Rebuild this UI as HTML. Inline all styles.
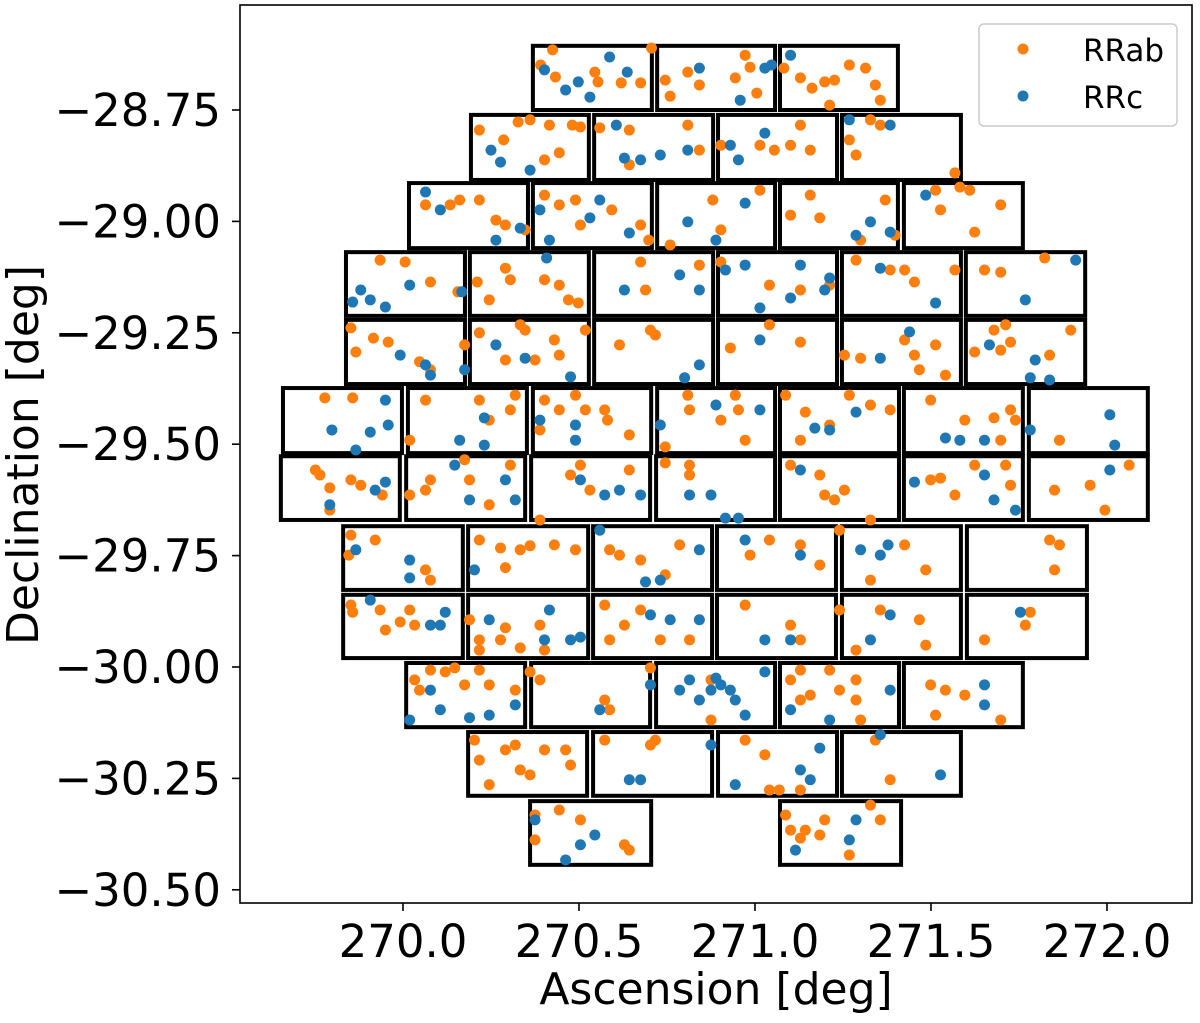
<!DOCTYPE html>
<html><head><meta charset="utf-8"><style>
html,body{margin:0;padding:0;background:#fff;}
svg{display:block;font-family:"DejaVu Sans","Liberation Sans",sans-serif;}
</style></head><body>
<svg id="chart" width="1200" height="1023" viewBox="0 0 1200 1023" xmlns="http://www.w3.org/2000/svg">
<rect x="0" y="0" width="1200" height="1023" fill="#fff"/>
<g id="chips"></g>
<g id="pts"></g>
<rect x="240" y="5" width="952" height="898" fill="none" stroke="#000" stroke-width="1.6"/>
<g id="axes"></g>
<text x="716" y="1004" font-size="44" text-anchor="middle">Ascension [deg]</text>
<text transform="translate(38,455) rotate(-90)" font-size="44" text-anchor="middle">Declination [deg]</text>
<g>
<rect x="979" y="24" width="198" height="102" rx="5" fill="#fff" fill-opacity="0.85" stroke="#ccc" stroke-width="1.5"/>
<circle cx="1023" cy="49" r="5.5" fill="#ff7f0e"/>
<text x="1083" y="61" font-size="31">RRab</text>
<circle cx="1023" cy="96" r="5.5" fill="#1f77b4"/>
<text x="1083" y="108" font-size="31">RRc</text>
</g>
</svg>
<script>
const xTicks=[270.0,270.5,271.0,271.5,272.0];
const xTickLabels=["270.0","270.5","271.0","271.5","272.0"];
const yTicks=[-28.75,-29.00,-29.25,-29.50,-29.75,-30.00,-30.25,-30.50];
const yTickLabels=["\u221228.75","\u221229.00","\u221229.25","\u221229.50","\u221229.75","\u221230.00","\u221230.25","\u221230.50"];
// chips: [ra0, ra1, decTop, decBottom]
const chips=[
[270.369,270.707,-28.606,-28.750],[270.722,271.057,-28.606,-28.750],[271.071,271.406,-28.606,-28.750],
[270.193,270.528,-28.761,-28.907],[270.543,270.881,-28.761,-28.907],[270.895,271.233,-28.761,-28.907],[271.247,271.585,-28.761,-28.907],
[270.017,270.355,-28.914,-29.060],[270.369,270.707,-28.914,-29.060],[270.722,271.057,-28.914,-29.060],[271.071,271.406,-28.914,-29.060],[271.423,271.761,-28.914,-29.060],
[269.838,270.176,-29.069,-29.212],[270.190,270.528,-29.069,-29.212],[270.543,270.881,-29.069,-29.212],[270.895,271.233,-29.069,-29.212],[271.247,271.585,-29.069,-29.212],[271.599,271.938,-29.069,-29.212],
[269.838,270.176,-29.221,-29.365],[270.190,270.528,-29.221,-29.365],[270.543,270.881,-29.221,-29.365],[270.895,271.233,-29.221,-29.365],[271.247,271.585,-29.221,-29.365],[271.599,271.938,-29.221,-29.365],
[269.659,269.997,-29.374,-29.520],[270.014,270.352,-29.374,-29.520],[270.369,270.705,-29.374,-29.520],[270.722,271.057,-29.374,-29.520],[271.071,271.409,-29.374,-29.520],[271.423,271.761,-29.374,-29.520],[271.778,272.116,-29.374,-29.520],
[269.653,269.991,-29.527,-29.670],[270.009,270.347,-29.527,-29.670],[270.364,270.702,-29.527,-29.670],[270.719,271.057,-29.527,-29.670],[271.071,271.409,-29.527,-29.670],[271.423,271.761,-29.527,-29.670],[271.778,272.116,-29.527,-29.670],
[269.830,270.170,-29.684,-29.827],[270.185,270.526,-29.684,-29.827],[270.540,270.878,-29.684,-29.827],[270.892,271.230,-29.684,-29.827],[271.247,271.585,-29.684,-29.827],[271.602,271.943,-29.684,-29.827],
[269.830,270.170,-29.838,-29.980],[270.185,270.526,-29.838,-29.980],[270.540,270.878,-29.838,-29.980],[270.892,271.230,-29.838,-29.980],[271.247,271.585,-29.838,-29.980],[271.602,271.943,-29.838,-29.980],
[270.009,270.347,-29.991,-30.135],[270.364,270.702,-29.991,-30.135],[270.719,271.057,-29.991,-30.135],[271.071,271.409,-29.991,-30.135],[271.423,271.761,-29.991,-30.135],
[270.185,270.523,-30.146,-30.289],[270.540,270.878,-30.146,-30.289],[270.895,271.233,-30.146,-30.289],[271.247,271.585,-30.146,-30.289],
[270.361,270.705,-30.301,-30.444],[271.071,271.415,-30.301,-30.444]
];
const rrab=[
[270.425,-28.615],[270.391,-28.649],[270.433,-28.676],[270.545,-28.665],[270.554,-28.687],[270.620,-28.689],[270.706,-28.611],[270.675,-28.689],[270.745,-28.683],[270.759,-28.719],[270.809,-28.665],[270.842,-28.694],[270.944,-28.678],[270.986,-28.654],[271.005,-28.712],[270.972,-28.627],[271.082,-28.656],[271.129,-28.678],[271.162,-28.701],[271.198,-28.687],[271.226,-28.683],[271.268,-28.649],[271.314,-28.656],[271.342,-28.694],[271.356,-28.728],[271.212,-28.739],
[270.217,-28.795],[270.286,-28.817],[270.327,-28.777],[270.361,-28.772],[270.416,-28.784],[270.402,-28.862],[270.481,-28.784],[270.504,-28.788],[270.444,-28.846],[270.559,-28.790],[270.643,-28.795],[270.643,-28.873],[270.809,-28.784],[270.842,-28.840],[270.903,-28.829],[271.014,-28.829],[271.055,-28.840],[271.101,-28.829],[271.129,-28.784],[271.157,-28.840],[271.268,-28.817],[271.287,-28.851],[271.328,-28.772],[271.356,-28.784],[271.568,-28.891],
[270.064,-28.963],[270.134,-28.963],[270.161,-28.952],[270.217,-28.952],[270.264,-28.997],[270.291,-29.008],[270.347,-29.019],[270.402,-28.941],[270.444,-28.963],[270.490,-28.952],[270.504,-29.008],[270.593,-28.974],[270.675,-29.008],[270.698,-29.042],[270.759,-29.053],[270.880,-28.952],[270.903,-29.019],[271.014,-28.930],[271.101,-28.986],[271.157,-28.941],[271.184,-28.992],[271.300,-29.042],[271.370,-28.952],[271.398,-29.031],[271.513,-28.930],[271.527,-28.974],[271.582,-28.923],[271.610,-28.930],[271.624,-29.024],[271.698,-28.963],
[269.935,-29.087],[270.006,-29.091],[270.078,-29.136],[270.156,-29.158],[270.211,-29.136],[270.245,-29.176],[270.291,-29.105],[270.305,-29.131],[270.402,-29.131],[270.470,-29.176],[270.498,-29.183],[270.444,-29.143],[270.675,-29.091],[270.689,-29.154],[270.842,-29.098],[270.903,-29.091],[271.041,-29.143],[271.129,-29.154],[271.212,-29.143],[271.287,-29.087],[271.384,-29.109],[271.425,-29.109],[271.453,-29.136],[271.568,-29.109],[271.652,-29.109],[271.698,-29.114],[271.823,-29.082],
[269.852,-29.239],[269.866,-29.293],[269.916,-29.262],[269.958,-29.271],[270.047,-29.315],[270.078,-29.333],[270.175,-29.277],[270.217,-29.250],[270.291,-29.311],[270.333,-29.232],[270.347,-29.244],[270.375,-29.311],[270.430,-29.266],[270.444,-29.300],[270.518,-29.244],[270.615,-29.277],[270.703,-29.244],[270.717,-29.255],[270.930,-29.284],[271.041,-29.232],[271.129,-29.271],[271.254,-29.300],[271.300,-29.307],[271.425,-29.266],[271.453,-29.300],[271.467,-29.333],[271.513,-29.277],[271.541,-29.345],[271.624,-29.293],[271.679,-29.244],[271.698,-29.289],[271.712,-29.232],[271.726,-29.271],[271.837,-29.300],[271.897,-29.244],
[269.778,-29.396],[269.857,-29.396],[270.019,-29.491],[270.064,-29.401],[270.217,-29.401],[270.245,-29.446],[270.319,-29.390],[270.305,-29.423],[270.389,-29.468],[270.402,-29.401],[270.444,-29.423],[270.490,-29.390],[270.518,-29.423],[270.573,-29.423],[270.581,-29.446],[270.643,-29.479],[270.745,-29.506],[270.809,-29.390],[270.814,-29.423],[270.903,-29.446],[270.944,-29.390],[270.953,-29.423],[270.972,-29.491],[271.087,-29.390],[271.129,-29.491],[271.143,-29.428],[271.212,-29.457],[271.268,-29.390],[271.328,-29.412],[271.384,-29.423],[271.499,-29.401],[271.596,-29.446],[271.679,-29.441],[271.698,-29.491],[271.726,-29.423],[271.740,-29.446],[271.865,-29.491],
[269.751,-29.558],[269.764,-29.569],[269.792,-29.598],[269.852,-29.580],[269.880,-29.592],[269.941,-29.614],[269.792,-29.648],[270.019,-29.614],[270.064,-29.603],[270.078,-29.580],[270.175,-29.535],[270.189,-29.580],[270.245,-29.636],[270.305,-29.547],[270.389,-29.670],[270.476,-29.569],[270.504,-29.547],[270.531,-29.603],[270.643,-29.558],[270.745,-29.542],[270.814,-29.547],[270.814,-29.569],[271.101,-29.547],[271.184,-29.569],[271.198,-29.614],[271.226,-29.625],[271.254,-29.603],[271.328,-29.670],[271.499,-29.580],[271.527,-29.576],[271.568,-29.614],[271.624,-29.547],[271.712,-29.547],[271.726,-29.592],[271.851,-29.603],[271.952,-29.592],[271.994,-29.648],[272.063,-29.547],
[269.852,-29.704],[269.846,-29.749],[269.921,-29.715],[270.064,-29.782],[270.078,-29.805],[270.217,-29.715],[270.277,-29.733],[270.291,-29.777],[270.333,-29.737],[270.361,-29.728],[270.430,-29.726],[270.490,-29.737],[270.587,-29.737],[270.615,-29.749],[270.675,-29.760],[270.745,-29.793],[270.786,-29.726],[270.986,-29.749],[271.041,-29.715],[271.129,-29.726],[271.184,-29.771],[271.240,-29.693],[271.328,-29.805],[271.425,-29.726],[271.485,-29.782],[271.837,-29.715],[271.851,-29.782],[271.865,-29.726],
[269.852,-29.861],[269.857,-29.877],[269.935,-29.872],[269.950,-29.917],[269.992,-29.899],[270.019,-29.872],[270.033,-29.906],[270.189,-29.894],[270.217,-29.939],[270.217,-29.962],[270.277,-29.939],[270.291,-29.912],[270.333,-29.957],[270.389,-29.906],[270.402,-29.962],[270.573,-29.861],[270.587,-29.939],[270.629,-29.906],[270.675,-29.872],[270.731,-29.939],[270.814,-29.939],[270.972,-29.861],[271.101,-29.906],[271.129,-29.939],[271.240,-29.872],[271.287,-29.962],[271.356,-29.872],[271.467,-29.894],[271.485,-29.951],[271.652,-29.939],[271.768,-29.906],[271.782,-29.877],
[270.033,-30.029],[270.047,-30.052],[270.078,-30.007],[270.120,-30.011],[270.147,-30.002],[270.175,-30.040],[270.217,-30.007],[270.245,-30.040],[270.319,-30.052],[270.361,-30.011],[270.389,-30.029],[270.573,-30.074],[270.587,-30.096],[270.703,-30.002],[270.875,-30.029],[270.875,-30.119],[271.101,-30.029],[271.129,-30.007],[271.129,-30.074],[271.157,-30.063],[271.212,-30.007],[271.240,-30.052],[271.287,-30.029],[271.287,-30.074],[271.300,-30.119],[271.499,-30.040],[271.513,-30.108],[271.541,-30.052],[271.596,-30.063],[271.698,-30.119],
[270.203,-30.164],[270.217,-30.209],[270.245,-30.264],[270.291,-30.186],[270.319,-30.175],[270.333,-30.231],[270.361,-30.242],[270.402,-30.186],[270.462,-30.186],[270.476,-30.220],[270.573,-30.164],[270.703,-30.175],[270.717,-30.164],[270.972,-30.164],[271.028,-30.197],[271.041,-30.276],[271.069,-30.276],[271.129,-30.276],[271.342,-30.164],[271.384,-30.253],
[270.375,-30.332],[270.375,-30.388],[270.444,-30.321],[270.504,-30.343],[270.629,-30.399],[270.643,-30.411],[271.087,-30.332],[271.101,-30.366],[271.129,-30.384],[271.143,-30.366],[271.184,-30.377],[271.198,-30.343],[271.328,-30.310],[271.356,-30.343],[271.268,-30.422]
];
const rrc=[
[270.402,-28.660],[270.462,-28.705],[270.498,-28.687],[270.531,-28.721],[270.587,-28.631],[270.637,-28.665],[270.842,-28.656],[270.958,-28.728],[271.028,-28.656],[271.047,-28.649],[271.101,-28.627],
[270.250,-28.840],[270.277,-28.867],[270.361,-28.885],[270.606,-28.784],[270.629,-28.858],[270.675,-28.862],[270.731,-28.851],[270.809,-28.840],[270.930,-28.829],[270.953,-28.862],[271.028,-28.802],[271.268,-28.772],[271.384,-28.784],
[270.064,-28.934],[270.106,-28.974],[270.264,-29.042],[270.333,-29.015],[270.389,-28.974],[270.416,-29.042],[270.531,-28.992],[270.559,-28.952],[270.643,-29.026],[270.809,-29.001],[270.889,-29.042],[270.972,-28.959],[271.287,-29.031],[271.328,-29.001],[271.384,-29.024],[271.485,-28.941],
[269.857,-29.181],[269.880,-29.154],[269.907,-29.176],[269.950,-29.192],[270.019,-29.143],[270.167,-29.158],[270.408,-29.082],[270.629,-29.154],[270.786,-29.120],[270.842,-29.154],[270.916,-29.109],[270.972,-29.098],[271.014,-29.194],[271.101,-29.172],[271.129,-29.098],[271.212,-29.127],[271.198,-29.154],[271.356,-29.105],[271.513,-29.183],[271.768,-29.176],[271.911,-29.087],
[269.992,-29.300],[270.064,-29.322],[270.078,-29.345],[270.175,-29.333],[270.264,-29.277],[270.347,-29.307],[270.476,-29.349],[270.800,-29.351],[270.842,-29.322],[271.014,-29.266],[271.356,-29.307],[271.439,-29.248],[271.666,-29.277],[271.782,-29.351],[271.796,-29.311],[271.837,-29.356],
[269.798,-29.468],[269.866,-29.513],[269.907,-29.473],[269.950,-29.401],[269.958,-29.457],[270.161,-29.491],[270.231,-29.441],[270.231,-29.502],[270.389,-29.446],[270.490,-29.457],[270.490,-29.491],[270.731,-29.457],[270.889,-29.412],[271.014,-29.423],[271.170,-29.464],[271.212,-29.468],[271.287,-29.428],[271.541,-29.486],[271.582,-29.491],[271.652,-29.491],[271.782,-29.468],[272.008,-29.434],[272.022,-29.502],
[269.792,-29.636],[269.921,-29.603],[269.950,-29.585],[270.147,-29.547],[270.189,-29.625],[270.291,-29.580],[270.319,-29.625],[270.504,-29.580],[270.573,-29.614],[270.615,-29.603],[270.675,-29.614],[270.814,-29.614],[270.875,-29.614],[270.916,-29.666],[270.953,-29.666],[271.129,-29.558],[271.453,-29.585],[271.652,-29.569],[271.679,-29.625],[271.740,-29.648],[272.008,-29.558],
[269.866,-29.737],[270.019,-29.760],[270.019,-29.800],[270.203,-29.782],[270.559,-29.693],[270.689,-29.809],[270.731,-29.805],[270.842,-29.737],[270.972,-29.715],[271.129,-29.749],[271.300,-29.737],[271.356,-29.749],[271.378,-29.726],
[269.907,-29.850],[270.078,-29.906],[270.106,-29.906],[270.120,-29.877],[270.245,-29.894],[270.402,-29.939],[270.416,-29.872],[270.476,-29.939],[270.504,-29.933],[270.703,-29.883],[270.759,-29.894],[270.842,-29.894],[271.028,-29.939],[271.101,-29.939],[271.328,-29.939],[271.384,-29.883],[271.754,-29.877],
[270.019,-30.119],[270.078,-30.052],[270.106,-30.096],[270.189,-30.114],[270.245,-30.108],[270.319,-30.085],[270.559,-30.096],[270.703,-30.040],[270.786,-30.052],[270.814,-30.029],[270.842,-30.074],[270.875,-30.052],[270.889,-30.025],[270.903,-30.040],[270.930,-30.052],[270.944,-30.074],[270.972,-30.108],[271.028,-30.011],[271.101,-30.096],[271.212,-30.119],[271.384,-30.052],[271.652,-30.040],[271.652,-30.085],
[270.643,-30.253],[270.675,-30.253],[270.875,-30.175],[270.944,-30.264],[271.129,-30.231],[271.157,-30.253],[271.184,-30.182],[271.356,-30.152],[271.527,-30.242],
[270.375,-30.343],[270.504,-30.399],[270.545,-30.377],[270.462,-30.433],[271.268,-30.388],[271.287,-30.343],[271.115,-30.411]
];

const NS='http://www.w3.org/2000/svg';
function xs(ra){return 403+(ra-270)*352;}
function ys(dec){return 110+(-28.75-dec)*445.6;}
function mk(tag,attrs,parent){const e=document.createElementNS(NS,tag);for(const k in attrs)e.setAttribute(k,attrs[k]);parent.appendChild(e);return e;}

const gChips=document.getElementById('chips');
chips.forEach(function(c){
  const r=mk('rect',{x:xs(c[0]),y:ys(c[2]),width:xs(c[1])-xs(c[0]),height:ys(c[3])-ys(c[2]),fill:'none',stroke:'#000','stroke-width':4},gChips);
  
  
});
const gPts=document.getElementById('pts');
rrab.forEach(function(p){
  const c=mk('circle',{cx:xs(p[0]),cy:ys(p[1]),r:5.5,fill:'#ff7f0e'},gPts);
  
  
});
rrc.forEach(function(p){
  const c=mk('circle',{cx:xs(p[0]),cy:ys(p[1]),r:5.5,fill:'#1f77b4'},gPts);
  
  
});
const gAx=document.getElementById('axes');
xTicks.forEach(function(t,i){
  const x=xs(t);
  const l=mk('line',{x1:x,y1:903,x2:x,y2:911,stroke:'#000','stroke-width':1.6},gAx);
  
  
  const tx=mk('text',{x:x,y:957,'font-size':45,'text-anchor':'middle'},gAx);
  tx.textContent=xTickLabels[i];
  
  
});
yTicks.forEach(function(t,i){
  const y=ys(t);
  const l=mk('line',{x1:232,y1:y,x2:240,y2:y,stroke:'#000','stroke-width':1.6},gAx);
  
  
  const tx=mk('text',{x:221,y:y+16,'font-size':45,'text-anchor':'end'},gAx);
  tx.textContent=yTickLabels[i];
  
  
});
</script>
</body></html>
